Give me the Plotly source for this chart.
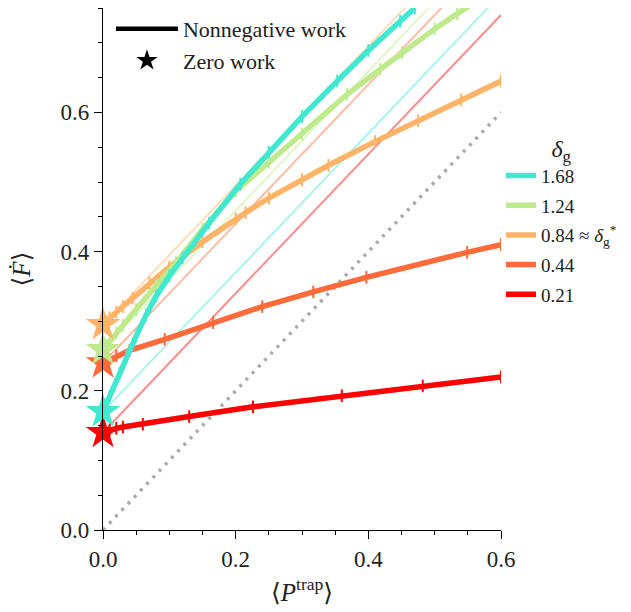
import plotly.graph_objects as go

# Mean power into the trap  <P^trap>  and mean free-energy rate  <dF/dt>
# for several values of the gating parameter delta_g.
labels = ["0.21", "0.44", "0.84 ≈ <i>δ</i><sub>g</sub><sup>*</sup>", "1.24", "1.68"]
colors = ["#ff0000", "#ff6a3a", "#ffb366", "#bfea8c", "#40e8d0"]

p_red = [0, 0.01, 0.02, 0.03, 0.06, 0.13, 0.226, 0.36, 0.482, 0.6]
f_red = [0.14, 0.144, 0.146, 0.148, 0.152, 0.163, 0.177, 0.193, 0.207, 0.22]

p_orangered = [0, 0.01, 0.02, 0.04, 0.093, 0.166, 0.24, 0.317, 0.397, 0.549, 0.6]
f_orangered = [0.24, 0.245, 0.25, 0.258, 0.274, 0.298, 0.321, 0.342, 0.363, 0.399, 0.41]

p_orange = [0, 0.005, 0.01, 0.02, 0.03, 0.045, 0.07, 0.1, 0.15, 0.2, 0.215, 0.25, 0.3, 0.34, 0.41, 0.475, 0.54, 0.6]
f_orange = [0.295, 0.3, 0.305, 0.313, 0.321, 0.333, 0.355, 0.378, 0.414, 0.447, 0.456, 0.477, 0.503, 0.524, 0.558, 0.588, 0.618, 0.645]

p_green = [0, 0.005, 0.01, 0.02, 0.03, 0.05, 0.08, 0.11, 0.15, 0.2, 0.25, 0.3, 0.368, 0.418, 0.451, 0.5, 0.534, 0.58]
f_green = [0.259, 0.265, 0.271, 0.283, 0.294, 0.317, 0.351, 0.384, 0.432, 0.487, 0.528, 0.569, 0.626, 0.662, 0.686, 0.72, 0.742, 0.77]

p_cyan = [0, 0.005, 0.01, 0.018, 0.025, 0.035, 0.05, 0.065, 0.08, 0.1, 0.12, 0.16, 0.207, 0.25, 0.3, 0.353, 0.4, 0.448, 0.47]
f_cyan = [0.17, 0.181, 0.192, 0.209, 0.225, 0.249, 0.279, 0.309, 0.336, 0.365, 0.391, 0.441, 0.497, 0.543, 0.594, 0.645, 0.689, 0.731, 0.75]

curves_p = [p_red, p_orangered, p_orange, p_green, p_cyan]
curves_f = [f_red, f_orangered, f_orange, f_green, f_cyan]

# zero-work free-energy rates (first point of each curve)
f_zero = [f[0] for f in curves_f]

diag = [0, 0.6]
p_span = [0, 0.6]

FONT = "Liberation Serif, DejaVu Serif, serif"


def rgba(hex_color, a):
    h = hex_color.lstrip("#")
    r, g, b = int(h[0:2], 16), int(h[2:4], 16), int(h[4:6], 16)
    return f"rgba({r},{g},{b},{a})"


fig = go.Figure()

# faint reference lines  F = F0 + P
for c, f0 in zip(colors, f_zero):
    fig.add_trace(go.Scatter(
        x=p_span, y=[f0 + p for p in p_span], mode="lines",
        line=dict(color=rgba(c, 0.45), width=2), showlegend=False, hoverinfo="skip"))

# identity line
fig.add_trace(go.Scatter(
    x=diag, y=diag, mode="lines",
    line=dict(color="#aaaaaa", width=3.5, dash="3px,6px"),
    showlegend=False, hoverinfo="skip"))

# nonnegative-work branches (largest delta_g listed first in the key)
n = len(colors)
for i, (c, lab, p, f) in enumerate(zip(colors, labels, curves_p, curves_f)):
    fig.add_trace(go.Scatter(
        x=p, y=f, mode="lines", line=dict(color=c, width=5.5),
        name=lab, legend="legend2", legendgroup=f"g{i}",
        legendrank=100 + (n - i), showlegend=True))
    fig.add_trace(go.Scatter(
        x=p, y=f, mode="markers",
        marker=dict(symbol="line-ns", size=9, line=dict(color=c, width=2)),
        showlegend=False, hoverinfo="skip"))

# zero-work points
for c, f0 in zip(colors, f_zero):
    fig.add_trace(go.Scatter(
        x=[0], y=[f0], mode="markers", cliponaxis=False,
        marker=dict(symbol="star", size=26, color=c, line=dict(width=0)),
        showlegend=False))

# key for line / star meaning
fig.add_trace(go.Scatter(
    x=[None], y=[None], mode="lines", line=dict(color="black", width=4.5),
    name="Nonnegative work", legend="legend"))
fig.add_trace(go.Scatter(
    x=[None], y=[None], mode="markers",
    marker=dict(symbol="star", size=22, color="black"),
    name="Zero work", legend="legend"))

axis_common = dict(
    showgrid=False, zeroline=False, showline=True, linecolor="black", linewidth=1.3,
    ticks="outside", ticklen=8, tickwidth=1.3, tickcolor="black",
    tickfont=dict(family=FONT, size=23, color="#222"),
    minor=dict(ticks="outside", ticklen=4, tickwidth=1, tickcolor="black", dtick=0.05),
)

fig.update_xaxes(range=[0, 0.6], dtick=0.2, tickformat=".1f",
                 title=dict(text="⟨<i>P</i><sup>trap</sup>⟩",
                            font=dict(family=FONT, size=25, color="#222"), standoff=12),
                 **axis_common)
fig.update_yaxes(range=[0, 0.75], dtick=0.2, tickformat=".1f",
                 title=dict(text="⟨<i>Ḟ</i>⟩",
                            font=dict(family=FONT, size=25, color="#222"), standoff=22),
                 **axis_common)

fig.update_layout(
    width=631, height=612,
    margin=dict(l=103, r=130, t=8, b=82),
    plot_bgcolor="white", paper_bgcolor="white",
    font=dict(family=FONT, color="#222"),
    legend=dict(x=0.02, y=1.0, xanchor="left", yanchor="top",
                bgcolor="rgba(0,0,0,0)", font=dict(family=FONT, size=22, color="#222"),
                itemwidth=62, tracegroupgap=0),
    legend2=dict(x=1.0, y=0.775, xanchor="left", yanchor="top",
                 bgcolor="rgba(0,0,0,0)", font=dict(family=FONT, size=19, color="#222"),
                 traceorder="grouped", tracegroupgap=2, borderwidth=0,
                 title=dict(text="<i>δ</i><sub>g</sub>", side="top center",
                            font=dict(family=FONT, size=24, color="#222"))),
    showlegend=True,
)

fig.write_html("out.html")
